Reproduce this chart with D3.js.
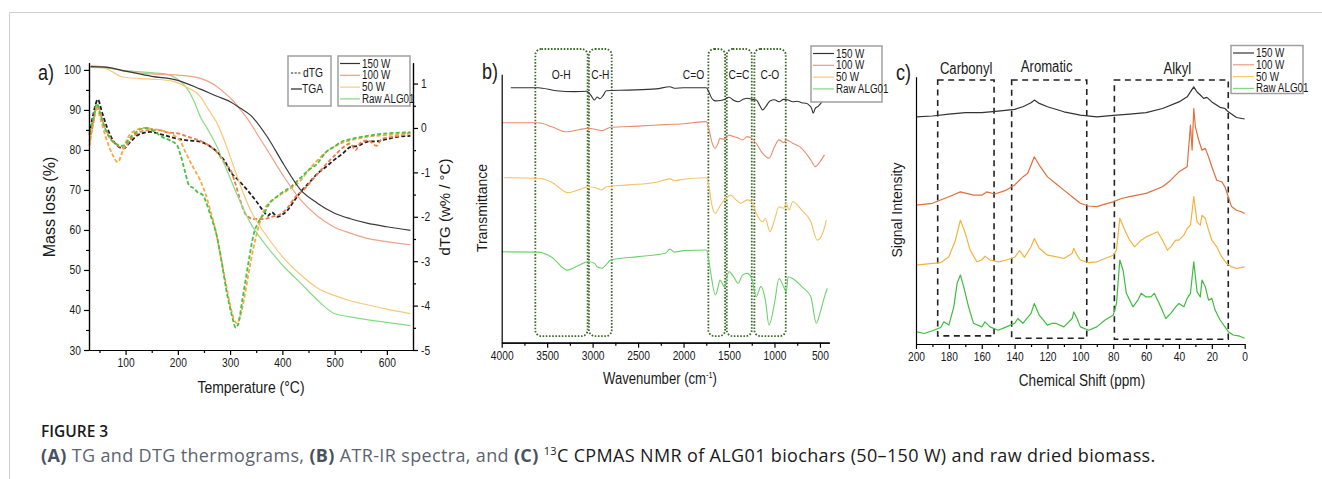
<!DOCTYPE html>
<html>
<head>
<meta charset="utf-8">
<script src="https://cdn.jsdelivr.net/npm/d3@7"></script>
<style>
  body { margin: 0; background: #fff; }
  svg text { font-family: "Liberation Sans", Arial, sans-serif; fill: #1a1a1a; }
  svg text.cap { font-family: "Open Sans", "Noto Sans", sans-serif; }
</style>
</head>
<body>
<svg id="fig" width="1322" height="479"></svg>
<script>
// ---------- data ----------
const seriesNames = ["150 W", "100 W", "50 W", "Raw ALG01"];

// a) TGA, [temperature °C, mass %]
const tga150 = [[33,100.8],[60,100.7],[100,99.7],[150,98.4],[200,97.4],[243,95.2],[275,93.4],[301,92.0],[320,90.4],[339,88.7],[371,83.3],[403,76.3],[435,70.0],[467,66.7],[498,64.3],[530,62.8],[562,61.7],[600,60.8],[645,59.9]];
const tga100 = [[33,101.0],[70,100.6],[100,99.6],[150,99.0],[200,98.7],[243,97.9],[260,97.0],[275,95.8],[290,94.2],[307,92.1],[320,90.0],[339,86.7],[355,83.3],[371,80.0],[403,73.3],[435,67.5],[467,63.5],[498,60.8],[530,59.2],[562,57.9],[600,57.1],[645,56.3]];
const tga50  = [[33,100.8],[55,100.6],[75,99.5],[90,98.4],[100,98.1],[150,97.7],[190,97.2],[215,95.8],[243,93.3],[259,90.0],[275,86.7],[290,82.0],[307,75.8],[323,70.0],[339,65.0],[355,61.3],[371,58.3],[403,52.9],[435,48.8],[467,45.5],[498,43.7],[530,42.3],[562,41.3],[600,40.2],[645,39.1]];
const tgaRaw = [[33,100.6],[70,100.4],[100,99.8],[150,99.3],[180,98.9],[200,97.6],[215,95.8],[230,92.5],[243,88.3],[260,84.5],[275,80.8],[291,75.8],[307,70.8],[323,66.0],[339,61.7],[355,58.5],[371,55.8],[403,50.8],[435,46.7],[467,42.5],[498,39.2],[530,38.3],[562,37.6],[600,36.9],[645,36.1]];

// a) dTG, [temperature °C, w% / °C]
const dtg150 = [[31,-0.15],[38,0.3],[47,0.64],[55,0.35],[65,0.0],[80,-0.35],[96,-0.46],[110,-0.3],[125,-0.15],[147,-0.09],[170,-0.15],[198,-0.24],[220,-0.28],[243,-0.31],[260,-0.4],[275,-0.54],[290,-0.75],[301,-0.99],[318,-1.2],[333,-1.4],[350,-1.65],[365,-1.89],[372,-1.98],[380,-1.9],[390,-2.0],[400,-1.95],[410,-1.85],[422,-1.65],[435,-1.44],[450,-1.25],[467,-1.03],[483,-0.88],[498,-0.73],[515,-0.58],[530,-0.43],[545,-0.4],[562,-0.31],[580,-0.3],[600,-0.25],[620,-0.2],[645,-0.18]];
const dtg100 = [[31,-0.3],[38,0.1],[46,0.5],[55,0.2],[65,-0.1],[80,-0.35],[97,-0.45],[110,-0.25],[125,-0.1],[145,-0.05],[165,-0.05],[180,-0.1],[200,-0.12],[220,-0.2],[245,-0.3],[260,-0.4],[275,-0.55],[290,-0.8],[301,-0.95],[310,-1.25],[320,-1.65],[330,-1.95],[345,-2.05],[355,-2.05],[365,-2.05],[380,-2.0],[395,-1.95],[410,-1.8],[425,-1.55],[440,-1.4],[455,-1.2],[470,-1.0],[485,-0.8],[500,-0.62],[515,-0.45],[530,-0.35],[540,-0.5],[550,-0.33],[565,-0.28],[580,-0.4],[590,-0.25],[610,-0.2],[630,-0.16],[645,-0.1]];
const dtg50  = [[31,-0.4],[38,0.1],[45,0.45],[52,0.2],[62,-0.2],[75,-0.6],[85,-0.77],[95,-0.5],[105,-0.2],[120,-0.05],[135,0.0],[150,-0.02],[165,-0.05],[190,-0.15],[205,-0.3],[216,-0.58],[230,-0.9],[243,-1.18],[252,-1.45],[262,-1.85],[272,-2.3],[281,-2.83],[291,-3.45],[301,-4.03],[307,-4.3],[313,-4.4],[319,-4.25],[326,-3.9],[335,-3.3],[345,-2.68],[355,-2.2],[365,-1.85],[378,-1.65],[390,-1.55],[410,-1.4],[435,-1.18],[450,-0.95],[467,-0.73],[483,-0.55],[498,-0.43],[515,-0.33],[530,-0.28],[562,-0.2],[600,-0.16],[645,-0.13]];
const dtgRaw = [[31,-0.1],[38,0.2],[45,0.55],[52,0.3],[62,-0.05],[75,-0.3],[95,-0.4],[110,-0.2],[125,-0.05],[140,0.0],[155,-0.08],[170,-0.2],[185,-0.28],[198,-0.38],[205,-0.6],[213,-0.95],[222,-1.3],[230,-1.35],[238,-1.45],[247,-1.5],[255,-1.7],[262,-1.95],[275,-2.45],[285,-3.1],[294,-3.73],[303,-4.2],[311,-4.5],[317,-4.35],[323,-3.9],[330,-3.4],[337,-2.9],[345,-2.4],[355,-2.1],[365,-1.93],[375,-1.7],[384,-1.6],[400,-1.45],[416,-1.33],[435,-1.12],[450,-0.95],[467,-0.8],[483,-0.55],[498,-0.43],[515,-0.3],[530,-0.25],[562,-0.18],[600,-0.12],[645,-0.1]];

// b) ATR-IR, [wavenumber cm-1, transmittance a.u. with offsets]
const ir150 = [[3900,85.0],[3600,85.0],[3400,84.0],[3200,83.7],[3060,83.8],[3020,82.5],[2980,80.9],[2950,81.9],[2920,81.3],[2880,82.6],[2850,84.0],[2600,84.2],[2300,84.6],[2150,85.3],[2100,84.8],[2000,85.0],[1800,85.0],[1750,85.0],[1720,83.5],[1690,81.5],[1650,80.6],[1580,80.8],[1550,81.1],[1500,81.8],[1450,80.8],[1400,80.3],[1340,81.2],[1300,81.5],[1250,81.1],[1200,80.9],[1160,79.0],[1130,77.6],[1100,78.5],[1050,80.6],[1000,81.0],[950,80.3],[900,81.1],[850,80.9],[800,80.3],[750,80.5],[700,80.0],[650,79.8],[620,79.2],[590,78.0],[575,76.5],[550,78.2],[520,78.8],[480,80.2]];
const ir100 = [[4000,73.3],[3600,73.3],[3450,72.0],[3285,70.3],[3150,71.0],[3050,71.5],[2950,71.0],[2900,70.7],[2850,71.2],[2800,71.8],[2500,72.2],[2200,72.7],[2000,73.0],[1750,73.7],[1720,71.0],[1690,67.0],[1654,64.8],[1620,66.5],[1600,68.1],[1550,67.8],[1500,69.2],[1450,68.7],[1400,68.2],[1350,67.6],[1300,68.7],[1250,68.1],[1200,66.4],[1130,63.1],[1060,61.5],[1000,65.3],[950,67.6],[900,66.7],[870,67.6],[800,66.5],[700,64.8],[600,60.9],[550,58.7],[500,60.3],[450,62.6]];
const ir50  = [[3975,55.0],[3600,54.8],[3450,53.5],[3270,50.0],[3150,51.0],[3050,52.0],[2950,51.5],[2900,50.9],[2850,52.0],[2600,52.6],[2300,53.5],[2150,54.6],[2100,54.0],[2000,54.5],[1750,55.0],[1720,52.0],[1690,46.0],[1650,43.1],[1620,44.5],[1580,46.5],[1550,47.6],[1480,49.2],[1430,47.8],[1370,46.5],[1300,47.6],[1250,47.0],[1200,43.1],[1130,40.3],[1100,41.4],[1050,37.0],[1000,40.9],[950,45.3],[900,44.8],[870,46.5],[840,44.2],[800,47.0],[700,44.2],[600,40.3],[530,34.2],[470,36.5],[430,40.9]];
const irRaw = [[4000,30.3],[3600,30.2],[3450,28.5],[3280,24.2],[3150,25.8],[3050,27.0],[2980,26.5],[2950,25.3],[2900,24.8],[2850,26.0],[2800,27.6],[2500,28.7],[2200,29.8],[2150,31.2],[2100,30.2],[2000,30.7],[1750,30.9],[1720,27.0],[1700,23.1],[1650,15.9],[1620,18.5],[1600,20.9],[1550,18.7],[1500,23.7],[1450,22.0],[1400,19.8],[1350,22.6],[1300,23.1],[1250,21.4],[1200,15.3],[1150,18.7],[1100,14.2],[1060,5.9],[1000,13.1],[950,21.4],[900,18.7],[870,17.0],[850,22.0],[800,21.4],[700,18.7],[600,15.3],[540,6.5],[500,9.8],[450,15.3],[420,18.1]];

// b) band regions [from, to] cm-1 and label position
const irBands = ["O-H", "C-H", "C=O", "C=C", "C-O"];
const irBandFrom = [3630, 3040, 1727, 1525, 1221];
const irBandTo   = [3055, 2790, 1543, 1250, 876];
const irBandLabelAt = [3345, 2915, 1890, 1390, 1050];

// c) 13C CPMAS NMR, [ppm, intensity a.u. with offsets]
const nmr150 = [[200,75.7],[190,76.0],[180,76.6],[170,77.1],[160,77.1],[150,77.6],[140,78.2],[135,79.1],[130,80.4],[128,81.3],[125,80.2],[120,79.1],[110,77.4],[100,76.3],[90,75.7],[80,76.2],[70,76.6],[60,77.1],[50,78.5],[40,80.7],[35,82.4],[31,85.7],[29,84.0],[27,83.0],[25,81.9],[23,82.2],[20,80.7],[15,78.9],[12,78.5],[10,77.4],[5,75.5],[0,75.0]];
const nmr100 = [[200,46.3],[190,46.9],[180,49.1],[173,50.7],[165,49.6],[160,49.6],[157,50.7],[152,50.0],[145,51.3],[140,53.0],[135,55.7],[132,56.9],[128,62.4],[125,59.6],[120,55.7],[115,53.5],[110,51.3],[105,49.1],[100,46.9],[95,46.0],[90,45.8],[85,46.6],[80,47.4],[75,48.5],[70,49.1],[60,50.2],[50,52.4],[45,54.6],[40,57.4],[35,59.1],[33,73.0],[32,64.6],[31,78.5],[30,72.4],[28,68.0],[26,64.6],[24,65.2],[22,62.4],[20,59.1],[17,54.6],[14,54.1],[12,52.4],[10,49.1],[8,45.8],[5,44.6],[2,44.1],[0,43.5]];
const nmr50  = [[200,26.3],[190,26.9],[185,27.1],[180,29.1],[176,34.6],[173,41.3],[170,36.9],[167,31.3],[163,27.4],[160,28.0],[158,29.3],[155,28.0],[150,27.4],[145,28.0],[140,28.9],[137,31.1],[134,28.9],[130,32.4],[128,35.2],[125,31.9],[120,29.6],[115,29.1],[110,28.5],[105,30.2],[104,31.9],[102,29.6],[100,28.0],[95,27.1],[90,27.4],[85,28.5],[80,29.6],[78,31.3],[76,41.9],[73,38.0],[70,34.6],[67,32.4],[63,34.6],[60,35.7],[55,36.9],[53,37.4],[50,34.6],[47,31.3],[45,32.4],[42,34.6],[40,34.6],[37,36.3],[35,38.5],[33,39.6],[31,49.1],[29,40.7],[27,39.6],[26,42.9],[24,41.9],[22,38.0],[20,34.6],[17,32.4],[14,29.1],[11,26.9],[8,25.7],[5,25.2],[0,25.7]];
const nmrRaw = [[200,4.1],[195,3.5],[190,4.4],[185,5.5],[183,7.4],[180,6.3],[177,12.4],[175,20.2],[173,23.0],[171,19.1],[168,12.4],[165,6.9],[160,5.7],[158,7.4],[155,5.7],[150,4.6],[145,5.7],[140,6.9],[138,8.5],[135,6.9],[130,10.2],[128,13.5],[125,9.6],[120,6.3],[117,6.9],[115,6.9],[110,5.7],[105,8.5],[104,10.7],[102,8.5],[100,5.7],[95,4.6],[90,5.7],[85,8.0],[80,9.6],[78,13.5],[76,28.0],[74,24.6],[72,16.9],[68,12.4],[65,14.6],[63,16.9],[60,15.7],[57,15.7],[55,16.9],[52,13.5],[48,8.5],[45,10.2],[42,12.4],[40,13.5],[37,12.4],[35,15.2],[33,16.9],[31,27.4],[29,17.4],[27,15.7],[26,21.3],[24,19.1],[22,14.6],[20,15.2],[18,11.3],[15,8.0],[12,5.7],[10,4.1],[7,3.0],[3,2.6],[0,1.9]];

// c) regions [from, to] ppm, box bottom in intensity units
const nmrRegions = ["Carbonyl", "Aromatic", "Alkyl"];
const nmrRegionFrom = [186.8, 141.8, 79.3];
const nmrRegionTo   = [152.5, 96.1, 10.0];
const nmrRegionBottom = [2.7, 1.9, 1.6];
const nmrRegionLabelAt = [169.5, 120.5, 41];

// ---------- styles ----------
const colTG  = ["#3a3a3a", "#f1a287", "#f8c978", "#86dc86"];
const colDTG = ["#1e1e1e", "#ef7a4c", "#f5aa3c", "#48c048"];
const colIR  = ["#333333", "#eb8c6c", "#f5c063", "#6dd26d"];
const colNMR = ["#333333", "#e0703c", "#f2b440", "#3fbd3f"];
const legendCol = ["#333333", "#f29a7c", "#f8cb7a", "#80d880"];

const svg = d3.select("#fig");

// figure frame
svg.append("line").attr("x1", 9.5).attr("x2", 1322).attr("y1", 12.5).attr("y2", 12.5).attr("stroke", "#cfcfcf");
svg.append("line").attr("x1", 9.5).attr("x2", 9.5).attr("y1", 12.5).attr("y2", 479).attr("stroke", "#cfcfcf");

function styleAxis(g, size) {
  g.attr("font-family", null);
  g.selectAll("path, line").attr("stroke", "#000").attr("stroke-width", 1.2);
  g.selectAll("text").attr("font-size", size || 12.5).attr("fill", "#1a1a1a")
    .classed("narrow", true);
}

function addAxis(maker, scale, translate, majors, minors) {
  const gm = svg.append("g").attr("transform", translate)
    .call(maker(scale).tickValues(minors).tickSize(3).tickFormat("").tickSizeOuter(0));
  styleAxis(gm);
  const g = svg.append("g").attr("transform", translate)
    .call(maker(scale).tickValues(majors).tickSize(5).tickSizeOuter(0).tickPadding(3)
      .tickFormat(d => String(d)));
  styleAxis(g);
  return g;
}

function ntext(x, y, txt, size, anchor) {
  return svg.append("text").attr("class", "narrow").attr("x", x).attr("y", y)
    .attr("font-size", size).attr("text-anchor", anchor || "start").text(txt);
}

function legend(x0, y0, w, h, rows, colors, lineLen) {
  svg.append("rect").attr("x", x0).attr("y", y0).attr("width", w).attr("height", h)
    .attr("fill", "#fff").attr("stroke", "#a0a0a0").attr("stroke-width", 1.5);
  rows.forEach((name, i) => {
    const yy = y0 + 7.5 + i * 11.8;
    svg.append("line").attr("x1", x0 + 2).attr("x2", x0 + 2 + lineLen)
      .attr("y1", yy).attr("y2", yy).attr("stroke", colors[i]).attr("stroke-width", 1.2);
    ntext(x0 + 4 + lineLen, yy + 4, name, 12);
  });
}

function rotLabel(x, y, txt, size) {
  svg.append("text")
    .attr("transform", `translate(${x},${y}) rotate(-90)`)
    .attr("text-anchor", "middle").attr("font-size", size).text(txt);
}

// ---------- panel a ----------
const xA = d3.scaleLinear().domain([30, 650]).range([89, 413]);
const yA = d3.scaleLinear().domain([30, 101.8]).range([350, 62.7]);
const yA2 = d3.scaleLinear().domain([-5, 1.47]).range([350, 62.7]);

const lineTG = d3.line().x(d => xA(d[0])).y(d => yA(d[1])).curve(d3.curveMonotoneX);
const lineDTG = d3.line().x(d => xA(d[0])).y(d => yA2(d[1])).curve(d3.curveMonotoneX);

[dtg150, dtg100, dtg50, dtgRaw].forEach((s, i) => {
  svg.append("path").datum(s).attr("d", lineDTG).attr("fill", "none")
    .attr("stroke", colDTG[i]).attr("stroke-width", 1.8).attr("stroke-dasharray", "4,2.2");
});
[tgaRaw, tga50, tga100, tga150].forEach((s, k) => {
  const i = 3 - k;
  svg.append("path").datum(s).attr("d", lineTG).attr("fill", "none")
    .attr("stroke", colTG[i]).attr("stroke-width", 1.2);
});

addAxis(d3.axisBottom, xA, "translate(0,350)", d3.range(100, 601, 100), d3.range(50, 651, 100).filter(v => v < 650));
addAxis(d3.axisLeft, yA, "translate(89,0)", d3.range(30, 101, 10), d3.range(35, 100, 10));
addAxis(d3.axisRight, yA2, "translate(413,0)", d3.range(-5, 2, 1), d3.range(-4.5, 1, 1));

ntext(38, 80, "a)", 22);
rotLabel(55, 207, "Mass loss (%)", 16);
rotLabel(450, 207, "dTG (w% / °C)", 15);
ntext(251, 393, "Temperature (°C)", 17, "middle");

// a) legends
svg.append("rect").attr("x", 288).attr("y", 56).attr("width", 43).attr("height", 50)
  .attr("fill", "#fff").attr("stroke", "#a0a0a0").attr("stroke-width", 1.5);
svg.append("line").attr("x1", 291).attr("x2", 301).attr("y1", 73).attr("y2", 73)
  .attr("stroke", "#222").attr("stroke-width", 1.2).attr("stroke-dasharray", "2.2,1.4");
ntext(303, 77, "dTG", 12.5);
svg.append("line").attr("x1", 291).attr("x2", 302).attr("y1", 89).attr("y2", 89)
  .attr("stroke", "#222").attr("stroke-width", 1.2);
ntext(302, 93, "TGA", 12.5);
legend(338, 56, 72, 50, seriesNames, legendCol, 20);

// ---------- panel b ----------
const xB = d3.scaleLinear().domain([4000, 397]).range([501.7, 829.3]);
const yB = d3.scaleLinear().domain([0, 100]).range([342.7, 42.7]);
const lineIR = d3.line().x(d => xB(d[0])).y(d => yB(d[1])).curve(d3.curveMonotoneX);

irBands.forEach((name, i) => {
  const x1 = xB(irBandFrom[i]), x2 = xB(irBandTo[i]);
  svg.append("rect").attr("x", x1).attr("y", yB(97.9)).attr("width", x2 - x1)
    .attr("height", yB(2.2) - yB(97.9)).attr("rx", 6).attr("ry", 6)
    .attr("fill", "none").attr("stroke", "#3d6b2a").attr("stroke-width", 1.8)
    .attr("stroke-dasharray", "1.6,1.6");
  ntext(xB(irBandLabelAt[i]), yB(87.8), name, 12.5, "middle");
});

[ir150, ir100, ir50, irRaw].forEach((s, i) => {
  svg.append("path").datum(s).attr("d", lineIR).attr("fill", "none")
    .attr("stroke", colIR[i]).attr("stroke-width", 1.1);
});

addAxis(d3.axisBottom, xB, "translate(0,342.7)", d3.range(4000, 499, -500), d3.range(3750, 700, -500));
const yBax = svg.append("g").attr("transform", "translate(501.7,0)")
  .call(d3.axisLeft(yB.copy().domain([0, 89.5]).range([yB(0), yB(89.5)])).tickValues([]).tickSizeOuter(0));
styleAxis(yBax);

ntext(482, 79, "b)", 22);
rotLabel(487, 208, "Transmittance", 14);
// label with superscript: squeezed with a transform instead of textLength
const wl = svg.append("text").attr("transform", "translate(660,384) scale(0.82,1)")
  .attr("text-anchor", "middle").attr("font-size", 16);
wl.append("tspan").text("Wavenumber (cm");
wl.append("tspan").attr("dy", -6).attr("font-size", 9).text("-1");
wl.append("tspan").attr("dy", 6).text(")");

legend(811, 46, 71, 56, seriesNames, legendCol, 21);

// ---------- panel c ----------
const xC = d3.scaleLinear().domain([200, 0]).range([916, 1244.7]);
const yC = d3.scaleLinear().domain([0, 100]).range([344, 44]);
const lineNMR = d3.line().x(d => xC(d[0])).y(d => yC(d[1]));

nmrRegions.forEach((name, i) => {
  const x1 = xC(nmrRegionFrom[i]), x2 = xC(nmrRegionTo[i]);
  svg.append("rect").attr("x", x1).attr("y", yC(88)).attr("width", x2 - x1)
    .attr("height", yC(nmrRegionBottom[i]) - yC(88))
    .attr("fill", "none").attr("stroke", "#222").attr("stroke-width", 1.6)
    .attr("stroke-dasharray", "6,4.5");
  ntext(xC(nmrRegionLabelAt[i]), i === 1 ? 72 : 74, name, 16, "middle");
});

[nmr150, nmr100, nmr50, nmrRaw].forEach((s, i) => {
  svg.append("path").datum(s).attr("d", lineNMR).attr("fill", "none")
    .attr("stroke", colNMR[i]).attr("stroke-width", 1.2).attr("stroke-linejoin", "round");
});

addAxis(d3.axisBottom, xC, "translate(0,344)", d3.range(200, -1, -20), d3.range(190, 0, -20));
const yCax = svg.append("g").attr("transform", "translate(916,0)")
  .call(d3.axisLeft(yC.copy().domain([0, 89.1]).range([yC(0), yC(89.1)])).tickValues([]).tickSizeOuter(0));
styleAxis(yCax);

ntext(896, 80, "c)", 22);
rotLabel(902, 210, "Signal Intensity", 14);
ntext(1082, 386, "Chemical Shift (ppm)", 16.5, "middle");

legend(1231, 45.5, 72, 48, seriesNames, legendCol, 21);

// squeeze horizontal chart text like the original narrow typeface
svg.selectAll("text.narrow").each(function () {
  const w = this.getComputedTextLength();
  if (w > 0) this.setAttribute("textLength", (w * 0.82).toFixed(1));
  this.setAttribute("lengthAdjust", "spacingAndGlyphs");
});

// ---------- caption ----------
svg.append("text").attr("class", "cap").attr("x", 41).attr("y", 437)
  .attr("font-size", 15.5).attr("font-weight", 600).attr("fill", "#737780").text("FIGURE 3");
const cap = svg.append("text").attr("class", "cap").attr("x", 41).attr("y", 462)
  .attr("font-size", 18).attr("letter-spacing", 0.35).attr("fill", "#5d6470");
const parts = [["(A)", true], [" TG and DTG thermograms, ", false], ["(B)", true], [" ATR-IR spectra, and ", false], ["(C)", true], [" ", false]];
parts.forEach(p => cap.append("tspan").attr("font-weight", p[1] ? 700 : 400).attr("fill", p[1] ? "#4a5160" : "#5d6470").text(p[0]));
cap.append("tspan").attr("font-size", 11).attr("dy", -7).text("13");
cap.append("tspan").attr("dy", 7).text("C CPMAS NMR of ALG01 biochars (50–150 W) and raw dried biomass.");
</script>
</body>
</html>
